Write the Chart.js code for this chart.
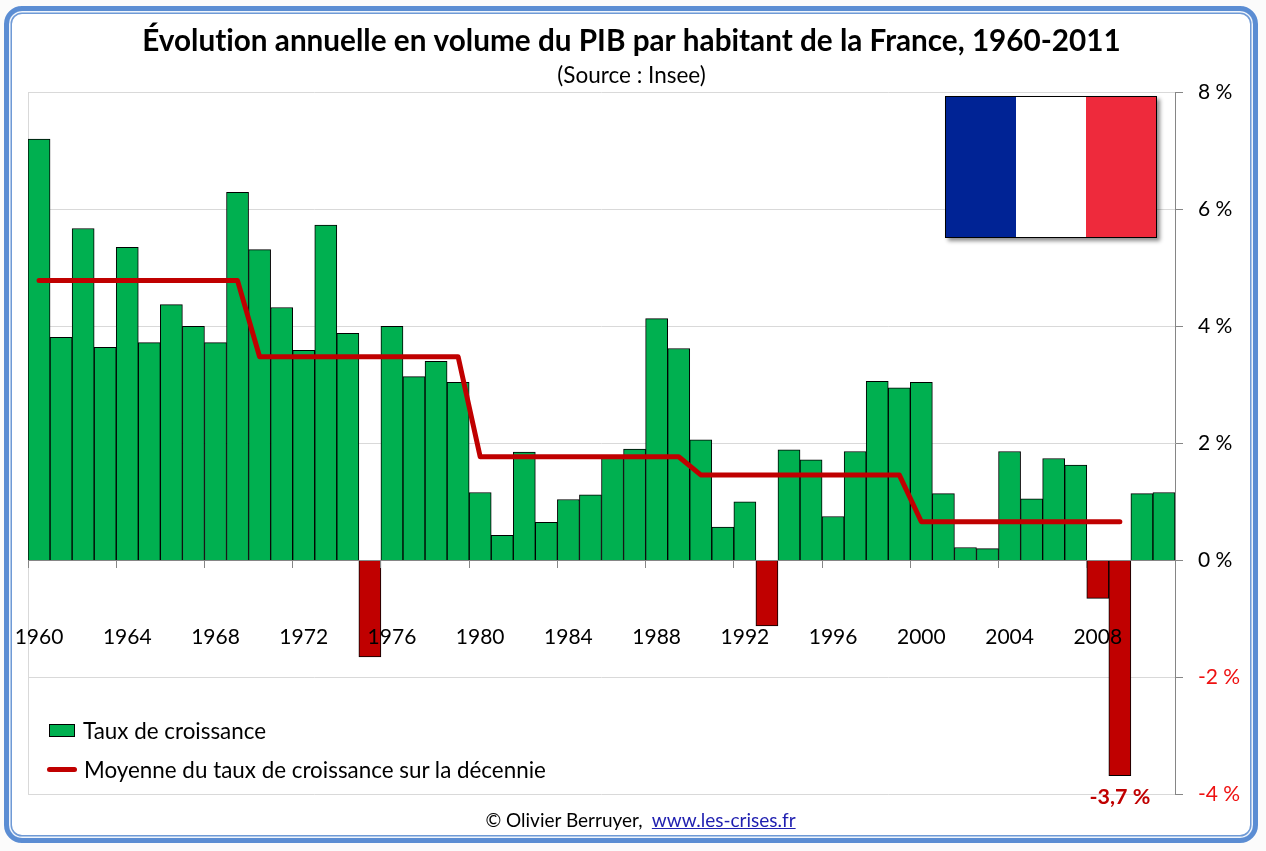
<!DOCTYPE html>
<html lang="fr">
<head>
<meta charset="utf-8">
<title>PIB par habitant de la France</title>
<script src="https://cdn.jsdelivr.net/npm/chart.js@4"></script>
<style>
html,body{margin:0;padding:0;background:#fbfbfb;}
#stage{position:relative;width:1266px;height:851px;overflow:hidden;font-family:Lato,sans-serif;color:#000;font-variant-ligatures:none;}
#frame{position:absolute;left:4px;top:6px;width:1254px;height:837px;box-sizing:border-box;background:#fff;
  border:5px solid #5b8dd3;border-radius:18px;box-shadow:inset 0 0 0 1.5px #f0f5fc,inset 0 0 0 3px #6f9ad6;}
canvas{position:absolute;left:0;top:0;}
#flag{position:absolute;left:945px;top:96px;width:212px;height:142px;box-sizing:border-box;border:1px solid #000;
  display:flex;box-shadow:3px 3px 4px rgba(0,0,0,.45);}
#flag i{flex:1;display:block;}
#legend{position:absolute;left:47px;top:711px;font-size:22.4px;line-height:39px;}
#legend div{display:flex;align-items:center;white-space:nowrap;}
#legend .sw{width:26px;height:13px;border:1px solid #000;background:#00b050;margin:0 8px 0 2px;box-sizing:border-box;}
#legend .ln{width:30px;height:5px;border-radius:3px;background:#c00000;margin:0 7px 0 0;}
#foot{position:absolute;left:0;width:1281px;top:808px;text-align:center;font-size:19px;white-space:pre;}
#foot a{color:#1f1fb0;text-decoration:underline;}
</style>
</head>
<body>
<div id="stage">
  <div id="frame"></div>
  <canvas id="c" width="1266" height="851"></canvas>
  <div id="flag"><i style="background:#002395"></i><i style="background:#fff"></i><i style="background:#ee2a3c"></i></div>
  <div id="legend"></div>
  <div id="foot">© Olivier Berruyer,  <a href="http://www.les-crises.fr">www.les-crises.fr</a></div>
</div>
<script>
const titleText = "Évolution annuelle en volume du PIB par habitant de la France, 1960-2011";
const subtitleText = "(Source : Insee)";
const seriesBars = "Taux de croissance";
const seriesLine = "Moyenne du taux de croissance sur la décennie";
const years = [1960,1961,1962,1963,1964,1965,1966,1967,1968,1969,1970,1971,1972,1973,1974,1975,1976,1977,1978,1979,1980,1981,1982,1983,1984,1985,1986,1987,1988,1989,1990,1991,1992,1993,1994,1995,1996,1997,1998,1999,2000,2001,2002,2003,2004,2005,2006,2007,2008,2009,2010,2011];
const growth = [7.2,3.81,5.67,3.64,5.35,3.72,4.37,4.0,3.72,6.29,5.31,4.32,3.59,5.73,3.88,-1.65,4.0,3.14,3.4,3.04,1.16,0.43,1.85,0.65,1.04,1.12,1.79,1.9,4.13,3.62,2.06,0.57,1.0,-1.12,1.89,1.72,0.75,1.86,3.06,2.95,3.04,1.14,0.22,0.2,1.86,1.05,1.74,1.63,-0.65,-3.68,1.14,1.16];
const decadeAverage = [4.78,4.78,4.78,4.78,4.78,4.78,4.78,4.78,4.78,4.78,3.48,3.48,3.48,3.48,3.48,3.48,3.48,3.48,3.48,3.48,1.77,1.77,1.77,1.77,1.77,1.77,1.77,1.77,1.77,1.77,1.46,1.46,1.46,1.46,1.46,1.46,1.46,1.46,1.46,1.46,0.66,0.66,0.66,0.66,0.66,0.66,0.66,0.66,0.66,0.66,null,null];

document.getElementById('legend').innerHTML =
  '<div><span class="sw"></span>'+seriesBars+'</div><div><span class="ln"></span>'+seriesLine+'</div>';

const FONT = 'Lato, sans-serif';
const frameLines = {
  id:'frameLines',
  afterLayout(chart){
    chart.boxes.filter(b=>b.position==='top' && !b.axis).forEach(b=>{ b.left -= 8; });
  },
  beforeDraw(chart){ chart.ctx.textRendering='optimizeSpeed'; },
  beforeDatasetsDraw(chart){
    const a = chart.chartArea, g = chart.ctx;
    g.save(); g.strokeStyle='#d9d9d9'; g.lineWidth=1;
    g.beginPath(); g.moveTo(Math.round(a.left)+.5,a.top); g.lineTo(Math.round(a.left)+.5,a.bottom); g.stroke();
    g.restore();
  }
};
const minLabel = {
  id:'minLabel',
  afterDatasetsDraw(chart){
    const v = Math.min(...growth), i = growth.indexOf(v), g = chart.ctx;
    const x = chart.scales.x.getPixelForValue(i), y = chart.scales.y.getPixelForValue(v);
    g.save(); g.font='700 21.5px '+FONT; g.fillStyle='#c00000'; g.textAlign='center'; g.textBaseline='middle';
    g.fillText(v.toFixed(1).replace('.',',')+' %',x,y+21);
    g.restore();
  }
};
Chart.defaults.devicePixelRatio = 1;
new Chart(document.getElementById('c'),{
  data:{labels:years,datasets:[
    {type:'line',label:seriesLine,data:decadeAverage,borderColor:'#c00000',borderWidth:5,pointRadius:0,
     tension:0,borderCapStyle:'round',borderJoinStyle:'round',order:0,spanGaps:false},
    {type:'bar',label:seriesBars,data:growth,
     backgroundColor:c=>c.raw<0?'#c00000':'#00b050',borderColor:'#000',borderWidth:1,
     barPercentage:1,categoryPercentage:1,order:1}
  ]},
  options:{
    responsive:false,animation:false,
    layout:{padding:{left:28,right:23,top:23.5,bottom:56.5}},
    plugins:{
      legend:{display:false},tooltip:{enabled:false},
      title:{display:true,text:titleText,color:'#000',font:{family:FONT,size:29.7,weight:'700'},padding:{top:0,bottom:3}},
      subtitle:{display:true,text:subtitleText,color:'#000',font:{family:FONT,size:22.5,weight:'400'},padding:{top:0,bottom:3}}
    },
    scales:{
      x:{type:'category',position:{y:0},offset:true,
        afterFit(s){s.paddingLeft=0;s.paddingRight=0;s.paddingTop=0;s.paddingBottom=0;},
        border:{display:true,color:'#868686',width:1,z:1},
        grid:{offset:true,drawOnChartArea:false,drawTicks:true,tickLength:7,z:1,
              tickColor:c=>c.index%4===0?'#868686':'transparent'},
        ticks:{autoSkip:false,maxRotation:0,minRotation:0,padding:57,z:1,color:'#000',font:{family:FONT,size:21},
               callback(v,i){return i%4===0?this.getLabelForValue(v):'';}}},
      y:{position:'right',min:-4,max:8,
        afterFit(s){s.width=68;},
        border:{display:true,color:'#868686',width:1},
        grid:{color:'#d9d9d9',tickColor:'#868686',tickLength:8,lineWidth:1},
        ticks:{stepSize:2,padding:15,font:{family:FONT,size:21},
               color:c=>c.tick.value<0?'#ee1111':'#000',
               callback:v=>v+' %'}}
    }
  },
  plugins:[frameLines,minLabel]
});
</script>
</body>
</html>
